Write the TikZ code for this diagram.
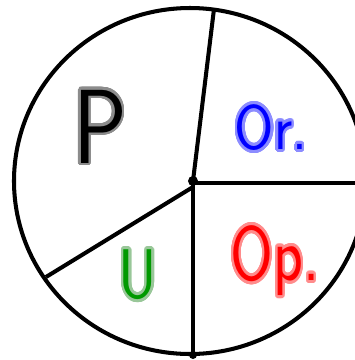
\documentclass[tikz,border=0pt]{standalone}
\usepackage{xcolor}
\usepackage{tikz}
\usepackage{contour}
\contourlength{1.6pt}
\contournumber{32}
\newcommand{\handtext}[3]{\textcolor{#1}{\contour{#2}{#3}}}

\begin{document}
\begin{tikzpicture}[x=0.02cm,y=-0.02cm,line width=2.3pt,
  label/.style={inner sep=0pt,font=\sffamily}]
\clip (0,0) rectangle (355,360);
\coordinate (c) at (193,181);
\coordinate (rtop) at (214,9);
\coordinate (rright) at (366,183);
\coordinate (rbottom) at (193,355);
\coordinate (rleft) at (46,277);
\draw (190,181) ellipse [x radius=176,y radius=173];
\draw (c) -- (rtop);
\draw (193,183) -- (rright);
\draw (193,183) -- (rbottom);
\draw (193,187) -- (rleft);
\fill (c) circle (5);
\fill (rbottom) circle (4);
\node[label,font=\sffamily\fontsize{60}{60}\selectfont] (p) at (100,128)
  {\scalebox{0.85}[1]{\handtext{black}{black!45}{P}}};
\node[label,font=\sffamily\fontsize{36}{36}\selectfont] (or) at (271,129)
  {\scalebox{0.9}[1]{\handtext{blue}{blue!45}{Or.}}};
\node[label,font=\sffamily\fontsize{44}{44}\selectfont] (op) at (275,262)
  {\scalebox{0.8}[1]{\handtext{red}{red!45}{Op.}}};
\node[label,font=\sffamily\fontsize{40}{40}\selectfont] (u) at (138,276)
  {\scalebox{0.85}[1]{\handtext{green!60!black}{green!45!black!40}{U}}};
\end{tikzpicture}
\end{document}
